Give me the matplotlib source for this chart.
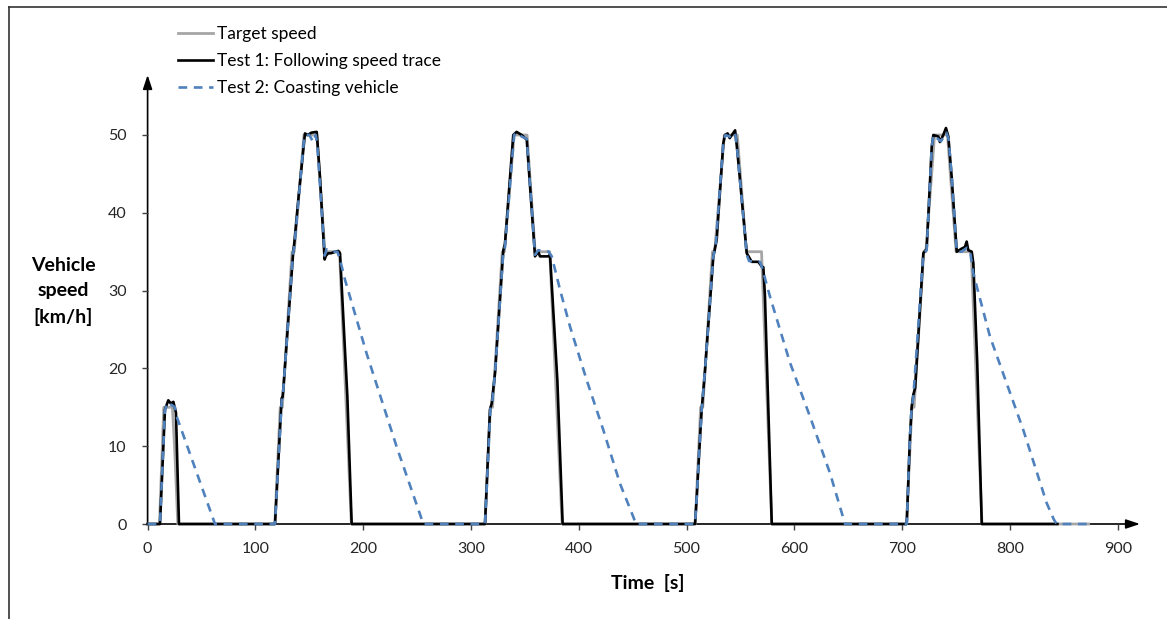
import matplotlib.pyplot as plt
from matplotlib.lines import Line2D

plt.rcParams['font.family'] = ['Lato', 'DejaVu Sans']

# Target speed (gray), s / km/h
t_target = [0, 11, 15, 23, 25, 28,
            118, 123, 125, 134, 136, 145, 157, 164.5, 178, 189,
            313, 318, 320, 329, 331, 340, 352, 359.5, 373, 384.5,
            508, 513, 515, 524, 526, 535, 547, 555.5, 569.5, 579,
            704, 709, 711, 720, 722, 730, 742, 750, 764, 774, 873]
v_target = [0, 0, 15, 15, 10, 0,
            0, 15, 15, 35, 35, 50, 50, 35, 35, 0,
            0, 15, 15, 35, 35, 50, 50, 35, 35, 0,
            0, 15, 15, 35, 35, 50, 50, 35, 35, 0,
            0, 15, 15, 35, 35, 50, 50, 35, 35, 0, 0]

# Test 1: driver following the speed trace
t_test1 = [0, 11.5, 16.1, 19.2, 21.5, 23.9, 26.3, 29.1,
           118.2, 124.4, 125.2, 126, 135.2, 136, 140, 146, 148.5, 152, 156.9, 159.9,
           164.2, 165.5, 167.6, 170, 176.9, 178.5, 185.3, 189.3,
           313, 317.6, 319.2, 322.3, 330, 331.5, 339.2, 342.3, 347, 351.7, 359.4,
           362.4, 364, 371.7, 373.3, 380.1, 385,
           507.8, 509.4, 511.8, 514, 517.1, 524.8, 527.9, 534, 535.6, 538, 540, 545, 547,
           555.8, 560.4, 566.5, 569.7, 571.2, 572.7, 579,
           704.2, 707.2, 708.8, 710.3, 712, 719.6, 722.7, 727.4, 728.9, 733.5, 735, 738.1,
           740.6, 742.8, 745.9, 750.6, 755.2, 758.2, 759.8, 761.3, 764.5, 766, 769.6, 773.8,
           844]
v_test1 = [0, 0, 14.7, 15.9, 15.5, 15.7, 14.3, 0,
           0, 16.2, 16.3, 17.5, 35.2, 36, 42, 50.2, 50, 50.3, 50.4, 44.6,
           34, 34.5, 34.8, 34.8, 35.1, 34.8, 16.4, 0,
           0, 14.7, 15.5, 19.4, 35.2, 36, 50, 50.4, 50, 49.4, 34.4,
           35, 34.4, 34.4, 34.6, 18.5, 0,
           0, 3.4, 9.5, 14.7, 19.8, 34.4, 36.5, 48.9, 50, 50.2, 49.6, 50.6, 48,
           34.8, 33.7, 33.7, 33.1, 33, 29.2, 0,
           0, 11.2, 15.1, 16.6, 17.5, 34.8, 35.4, 48.5, 50, 49.8, 49.1, 50,
           50.9, 49.8, 44.6, 35, 35.4, 35.6, 36.3, 35.2, 35, 33.5, 20.7, 0,
           0]

# Test 2: vehicle left to coast from the 35 km/h plateau
t_test2 = [0, 11.5, 16, 18, 22.3, 25.4, 27, 62.5,
           118.2, 124.4, 125.5, 135, 136, 145.5, 150, 153.7, 156, 157.5, 164.3, 166,
           170, 176, 178.5, 183.1, 203.2, 231.1, 255.8,
           313, 318, 319.5, 322.3, 330, 331.5, 340, 343, 347, 351.7, 359.4, 362.4,
           372, 374.9, 382.6, 391.8, 407.3, 422.7, 438.2, 450.6, 453,
           507.8, 509.4, 511.8, 514, 517.1, 524.8, 527, 534, 536, 540, 545, 547,
           555.8, 558, 568, 569.7, 577.4, 596, 614.5, 633.1, 647,
           704.2, 707.2, 708.8, 710.3, 719.6, 722.7, 727.4, 729, 733, 736, 741, 743,
           746, 750.6, 755, 760, 763, 766, 781.4, 812.3, 834, 840.6, 843.3, 873]
v_test2 = [0, 0, 14.5, 15.6, 15.3, 15, 13.8, 0,
           0, 15.8, 16.5, 35, 35.5, 50, 50, 49.1, 50, 48.5, 34.5, 35.3,
           35, 35, 34, 31.4, 21.9, 9.9, 0,
           0, 14.8, 15.5, 19.4, 35, 35.6, 50, 50.3, 49.8, 49.5, 34.6, 35.2,
           35, 34.4, 30.1, 25.4, 18.5, 12.1, 5.2, 0.9, 0,
           0, 3.4, 9.5, 14.7, 19.8, 34.4, 35.8, 48.9, 50, 49.8, 50.3, 48,
           34.6, 33.8, 33.7, 33.1, 29.2, 20.7, 13.8, 6.5, 0,
           0, 11.2, 15, 16.3, 34.8, 35.2, 48.5, 50, 49.5, 49.2, 50.3, 49.5,
           44.6, 35, 35, 35.5, 35, 32.2, 24.1, 12.1, 2.7, 0.6, 0, 0]

x_ticks = [0, 100, 200, 300, 400, 500, 600, 700, 800, 900]
y_ticks = [0, 10, 20, 30, 40, 50]

W, H = 1167, 619
fig = plt.figure(figsize=(W / 100, H / 100), dpi=100)
x0, x1 = 147.6, 1140
y0, y1 = 524, 75
ax = fig.add_axes([x0 / W, 1 - y0 / H, (x1 - x0) / W, (y0 - y1) / H])
ax.set_xlim(0, (x1 - x0) / 1.078)
ax.set_ylim(0, (y0 - y1) / 7.78)

ax.plot(t_target, v_target, color='#a6a6a6', lw=2.0, clip_on=False, zorder=2,
        label='Target speed')
ax.plot(t_test1, v_test1, color='black', lw=1.9, clip_on=False, zorder=3,
        label='Test 1: Following speed trace')
ax.plot(t_test2, v_test2, color='#4f81bd', lw=1.9, dashes=(3.3, 2.5),
        clip_on=False, zorder=4, label='Test 2: Coasting vehicle')

# axes drawn as arrows
for sp in ax.spines.values():
    sp.set_visible(False)
arrow = dict(arrowstyle='-|>,head_length=0.6,head_width=0.2', lw=1.2,
             color='black', mutation_scale=14, shrinkA=0, shrinkB=0)
ax.annotate('', xy=(1, 0), xytext=(0, 0), xycoords='axes fraction',
            arrowprops=arrow, zorder=1)
ax.annotate('', xy=(0, 1), xytext=(0, 0), xycoords='axes fraction',
            arrowprops=arrow, zorder=1)

ax.set_xticks(x_ticks)
ax.set_yticks(y_ticks)
ax.tick_params(direction='out', length=4, width=1, color='#404040',
               labelsize=11.5, labelcolor='#262626')
ax.tick_params(axis='x', pad=9)
ax.tick_params(axis='y', pad=11)

fig.text(648 / W, 1 - 583 / H, 'Time  [s]', ha='center', va='center',
         fontsize=14, fontweight='bold')
fig.text(63 / W, 1 - 291.5 / H, 'Vehicle\nspeed\n[km/h]', ha='center',
         va='center', multialignment='center', fontsize=14,
         fontweight='bold', linespacing=1.6)

ax.legend(loc='upper left', bbox_to_anchor=(178 / W, 1 - 26 / H),
          bbox_transform=fig.transFigure, frameon=False, fontsize=12.5,
          handlelength=2.0, handletextpad=0.23, labelspacing=0.64,
          borderpad=0, borderaxespad=0)

# frame on the left and top of the figure
fig.add_artist(Line2D([8.5 / W, 8.5 / W], [0, 1 - 7 / H], color='#333333',
                      lw=1.2, transform=fig.transFigure))
fig.add_artist(Line2D([8.5 / W, 1], [1 - 7 / H, 1 - 7 / H], color='#333333',
                      lw=1.2, transform=fig.transFigure))

fig.savefig('out.png', dpi=100)
